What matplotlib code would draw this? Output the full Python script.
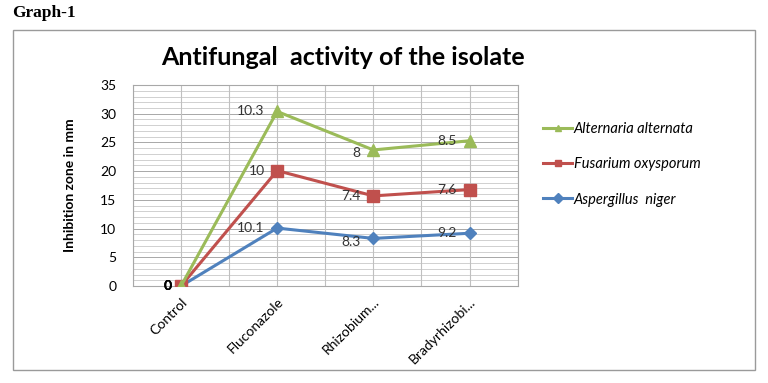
import matplotlib as mpl
mpl.use("Agg")
import matplotlib.pyplot as plt
import numpy as np
from matplotlib.patches import Rectangle

mpl.rcParams.update({"font.family": ["Lato", "DejaVu Sans"]})

# ── Data (values as labelled; the Excel chart stacks the series) ─────────────
categories = ["Control", "Fluconazole", "Rhizobium...", "Bradyrhizobi..."]
aspergillus = [0, 10.1, 8.3, 9.2]
fusarium = [0, 10, 7.4, 7.6]
alternaria = [0, 10.3, 8, 8.5]

series = [
    ("Aspergillus  niger", aspergillus, "#4F81BD", "D", 6),
    ("Fusarium oxysporum", fusarium, "#C0504D", "s", 8),
    ("Alternaria alternata", alternaria, "#9BBB59", "^", 8),
]

fig = plt.figure(figsize=(7.68, 3.83), dpi=100)

# outer chart frame
fig.patches.append(Rectangle((0.017, 0.034), 0.966, 0.888, transform=fig.transFigure,
                             fill=False, ec="#9a9a9a", lw=1.0))
fig.text(0.016, 0.966, "Graph-1", family="Liberation Serif", weight="bold",
         fontsize=12.5, va="center", ha="left")
fig.text(0.447, 0.851, "Antifungal  activity of the isolate", weight="bold",
         fontsize=18, ha="center", va="center")

ax = fig.add_axes([0.173, 0.253, 0.501, 0.525])
x = np.arange(len(categories))

# grid: minor every 1, major every 5, vertical every half category
for yv in np.arange(0, 36, 1):
    ax.axhline(yv, color="#d0d0d0" if yv % 5 else "#a8a8a8", lw=0.7, zorder=0)
for xv in np.arange(-0.5, 3.6, 0.5):
    ax.axvline(xv, color="#c0c0c0", lw=0.8, zorder=0)

base = np.zeros(len(categories))
handles = []
for label, vals, color, marker, ms in series:
    top = base + np.array(vals)
    h, = ax.plot(x, top, color=color, lw=2.2, marker=marker, ms=ms, zorder=3,
                 label=label)
    handles.append(h)
    for xi, yi, v in zip(x, top, vals):
        txt = f"{v:g}"
        if xi == 0:
            ax.text(xi - 0.1, yi, txt, ha="right", va="center", fontsize=10,
                    weight="bold", zorder=4)
        else:
            dy = -0.6 if (xi == 2 and label != "Fusarium oxysporum") else 0
            ax.text(xi - 0.13, yi + dy, txt, ha="right", va="center", fontsize=10,
                    color="#333333", zorder=4)
    base = top

ax.set_xlim(-0.5, 3.5)
ax.set_ylim(0, 35)
ax.set_yticks(np.arange(0, 36, 5))
ax.set_xticks(x)
ax.set_xticklabels(categories, rotation=45, ha="right", rotation_mode="anchor",
                   fontsize=10)
ax.tick_params(axis="y", labelsize=10, length=0, pad=12)
ax.tick_params(axis="x", length=0, pad=7)
for s in ax.spines.values():
    s.set_color("#a8a8a8")
    s.set_linewidth(0.8)

fig.text(0.091, 0.517, "Inhibition zone in mm", rotation=90, weight="bold",
         fontsize=10, ha="center", va="center")

leg = fig.legend(handles[::-1], [h.get_label() for h in handles[::-1]],
                 loc="upper left", bbox_to_anchor=(0.69, 0.715), frameon=False,
                 handlelength=2.0, handletextpad=0.1, labelspacing=1.45,
                 prop={"style": "italic", "size": 10.5})
for lh in leg.legend_handles:
    lh.set_markersize(5)

fig.savefig("out.png", dpi=100)
